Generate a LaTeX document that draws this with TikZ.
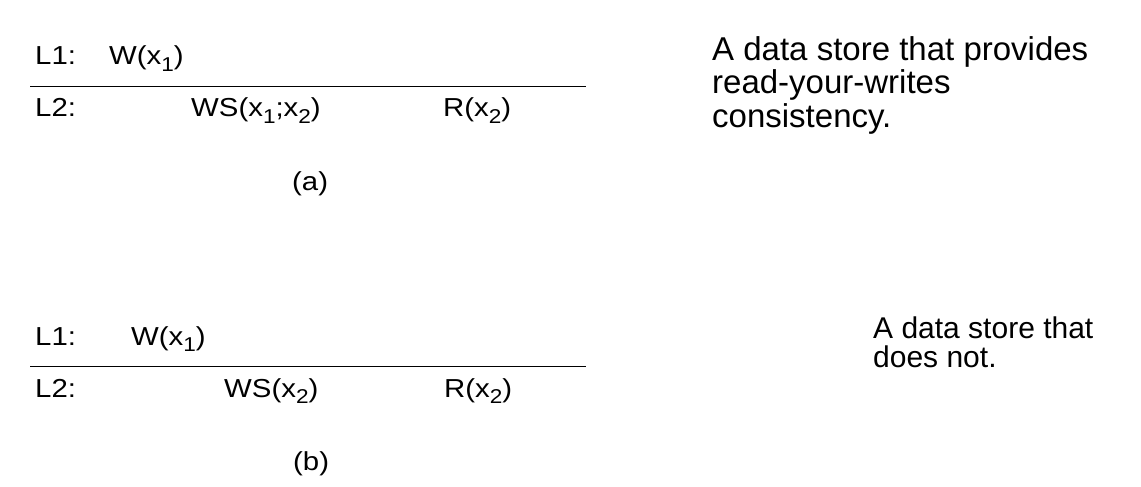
\documentclass[tikz,border=0pt]{standalone}
\usepackage{fontspec}
\setmainfont{Liberation Sans}
\newfontfamily\lblfont[FakeStretch=1.13]{Liberation Sans}
\newcommand\sbs[1]{\raisebox{-6pt}{\fontsize{20}{20}\selectfont #1}}
\begin{document}
\begin{tikzpicture}[x=1pt,y=-1pt,
  lbl/.style={anchor=base west, inner sep=0pt, font=\lblfont\fontsize{26}{30}\selectfont},
  note/.style={anchor=base west, inner sep=0pt, align=left},
  rule/.style={line width=1.2pt}]
\useasboundingbox (0,0) rectangle (1141,487);
% (a)
\node[lbl] (a1) at (35,65) {L1:};
\node[lbl] (aw) at (109,65) {W(x\sbs{1})};
\coordinate (al0) at (30,86.7);
\coordinate (al1) at (586,86.7);
\draw[rule] (al0) -- (al1);
\node[lbl] (a2) at (35,117) {L2:};
\node[lbl] (aws) at (191,117) {WS(x\sbs{1};x\sbs{2})};
\node[lbl] (ar) at (443,117) {R(x\sbs{2})};
\node[lbl] (acap) at (292,190) {(a)};
% (b)
\node[lbl] (b1) at (35,345) {L1:};
\node[lbl] (bw) at (131,345) {W(x\sbs{1})};
\coordinate (bl0) at (30,366.7);
\coordinate (bl1) at (586,366.7);
\draw[rule] (bl0) -- (bl1);
\node[lbl] (b2) at (35,397) {L2:};
\node[lbl] (bws) at (224,397) {WS(x\sbs{2})};
\node[lbl] (br) at (444,397) {R(x\sbs{2})};
\node[lbl] (bcap) at (293,470) {(b)};
% notes
\node[note, font=\fontsize{33}{34}\selectfont] (na) at (712,128) {A data store that provides\\read-your-writes\\consistency.};
\node[note, font=\fontsize{30}{28.4}\selectfont] (nb) at (873,367) {A data store that\\does not.};
\end{tikzpicture}
\end{document}
